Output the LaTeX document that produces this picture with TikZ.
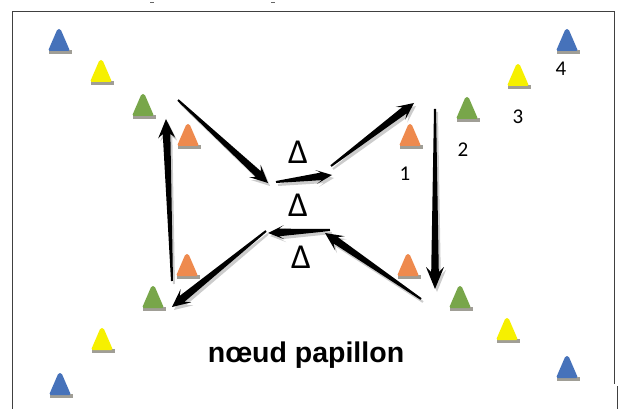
\documentclass[tikz,border=0pt]{standalone}
\usepackage{fontspec}
\setmainfont{Liberation Sans}
\newfontfamily\numfont{Carlito}
\usetikzlibrary{calc}

\definecolor{coneblue}{RGB}{70,114,186}
\definecolor{coneyellow}{RGB}{246,240,0}
\definecolor{conegreen}{RGB}{120,166,74}
\definecolor{coneorange}{RGB}{238,138,78}
\definecolor{conegray}{RGB}{160,158,150}

\tikzset{
  cone/.style={fill=#1, rounded corners=1.5pt},
  conebase/.style={fill=conegray},
  numlabel/.style={font=\numfont\fontsize{21}{21}\selectfont},
  delta/.style={font=\numfont\fontsize{35}{35}\selectfont, inner sep=0pt},
  title/.style={font=\bfseries\fontsize{28.5}{28.5}\selectfont, inner sep=0pt, anchor=base},
  wedge/.style={fill=black},
  wedgeshadow/.style={fill=black, opacity=.2, transform canvas={shift={(2pt,-3pt)}}},
}

% tapered arrow: start, end, barb distance, join distance, barb half width
\newcommand\wedgepath[5]{($(#1)!1pt!90:(#2)$) -- ($(#2)!#4!(#1)!3.8pt!90:(#2)$)
  -- ($(#2)!#3!(#1)!#5!90:(#2)$) -- (#2) -- ($(#2)!#3!(#1)!#5!-90:(#2)$)
  -- ($(#2)!#4!(#1)!3.8pt!-90:(#2)$) -- ($(#1)!1pt!-90:(#2)$) -- cycle}

\begin{document}
\begin{tikzpicture}[x=1pt,y=-1pt]
	\useasboundingbox (0,0) rectangle (619,409);
	
	% frame
	\draw[line width=1.3pt, black!75] (12.5,409) -- (12.5,11.5) -- (614.5,11.5) -- (614.5,384);
	\draw[line width=1.3pt, black!75] (617.5,386) -- (617.5,409);
	\draw[line width=1pt, black!60] (150,2.5) -- (154,2.5);
	\draw[line width=1pt, black!60] (271,2.5) -- (275,2.5);
	
	% cones (apex x / base y / colour)
	\foreach \x/\y/\c in {59/51/coneblue, 101/82/coneyellow, 143/116/conegreen, 188/146/coneorange,
		410/146/coneorange, 467/119/conegreen, 518/86/coneyellow, 567/51/coneblue,
		187/276/coneorange, 153/308/conegreen, 102/350/coneyellow, 60/395/coneblue,
		408/276/coneorange, 460/308/conegreen, 507/340/coneyellow, 567/378/coneblue}{
		\fill[conebase] (\x-10,\y-1) rectangle (\x+13,\y+3);
		\fill[cone=\c] (\x-11,\y) -- (\x-1.5,\y-22) -- (\x+1.5,\y-22) -- (\x+11,\y) -- cycle;
	}
	
	% numbers
	\node[numlabel] (n1) at (405,174) {1};
	\node[numlabel] (n2) at (463,150) {2};
	\node[numlabel] (n3) at (518,117) {3};
	\node[numlabel] (n4) at (561,69) {4};
	
	% deltas
	\node[delta] (d1) at (298,152) {Δ};
	\node[delta] (d2) at (298,205) {Δ};
	\node[delta] (d3) at (301,257) {Δ};
	
	% arrow ends
	\coordinate (a1) at (178,100); \coordinate (b1) at (268,183);
	\coordinate (a2) at (276,182); \coordinate (b2) at (332,175);
	\coordinate (a3) at (331,166); \coordinate (b3) at (414,103);
	\coordinate (a4) at (435,109); \coordinate (b4) at (435,289);
	\coordinate (a5) at (421,299); \coordinate (b5) at (325,233);
	\coordinate (a6) at (330,230); \coordinate (b6) at (268,233);
	\coordinate (a7) at (266,231); \coordinate (b7) at (172,307);
	\coordinate (a8) at (172,281); \coordinate (b8) at (166,119);
	
	\foreach \s/\e/\l/\j/\w in {a1/b1/18pt/13pt/8.5pt, a2/b2/16pt/11pt/7pt, a3/b3/17pt/12pt/8pt,
		a4/b4/22pt/17pt/9pt, a5/b5/18pt/13pt/8.5pt, a6/b6/16pt/11pt/7pt,
		a7/b7/18pt/13pt/8.5pt, a8/b8/19pt/15pt/8.5pt}{
		\fill[wedgeshadow] \wedgepath{\s}{\e}{\l}{\j}{\w};
		\fill[wedge] \wedgepath{\s}{\e}{\l}{\j}{\w};
	}
	
	% title
	\node[title] (titre) at (306,362) {nœud papillon};
\end{tikzpicture}
\end{document}
